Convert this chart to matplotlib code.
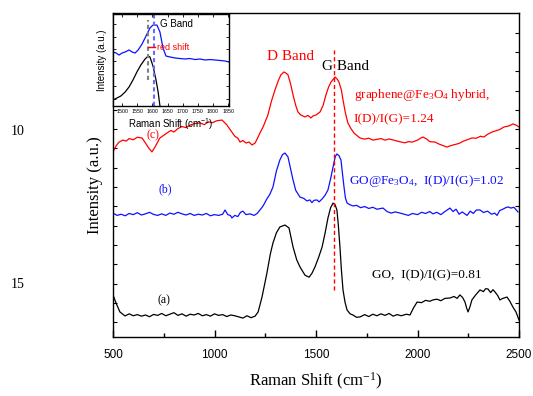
import numpy as np
import matplotlib
matplotlib.use("Agg")
import matplotlib.pyplot as plt

# ---- main spectra (wavenumber, intensity a.u.) ----
go_w = [500,515,534,559,580,600,620,640,660,680,700,720,740,760,780,800,820,840,860,880,900,920,940,960,980,1000,
        1020,1040,1060,1080,1100,1120,1140,1160,1180,1200,1215,1234,1258,1275,1288,1305,1322,1347,1367,1387,1405,1421,
        1446,1466,1480,1495,1512,1530,1545,1559,1572,1584,1594,1603,1610,1618,1625,1633,1643,1653,1668,1682,1700,1717,
        1740,1760,1780,1800,1820,1840,1860,1880,1900,1920,1945,1963,1980,1998,2020,2040,2060,2076,2095,2115,2135,2160,
        2180,2195,2209,2222,2234,2242,2249,2258,2268,2288,2308,2325,2335,2347,2360,2372,2382,2395,2406,2420,2441,2455,
        2470,2485,2500]
go_i = [2.18,1.76,1.30,1.09,1.20,1.10,1.16,1.08,1.14,1.05,1.17,1.12,1.22,1.10,1.18,1.26,1.12,1.20,1.08,1.18,1.14,1.22,
        1.10,1.16,1.08,1.20,1.12,1.16,1.06,1.14,1.10,1.04,0.98,1.10,1.00,1.08,1.30,2.07,3.30,4.30,4.87,5.40,5.70,5.80,
        5.65,4.66,4.00,3.63,3.20,3.10,3.30,3.63,4.10,4.66,5.40,6.17,6.70,6.94,6.85,6.58,5.80,4.66,3.50,2.44,1.80,1.40,
        1.20,1.14,1.02,1.04,1.16,1.06,1.18,1.10,1.20,1.12,1.22,1.08,1.16,1.10,1.18,1.14,1.50,1.81,1.78,1.90,1.85,1.92,
        1.96,1.88,2.00,2.02,2.10,2.00,2.18,2.05,1.81,1.50,1.30,1.55,1.92,2.20,2.44,2.35,2.50,2.49,2.30,2.45,2.33,2.15,
        1.92,2.00,2.07,1.85,1.55,1.30,0.88]

gofe_w = [500,520,540,560,580,600,620,640,660,680,700,720,740,760,780,800,820,840,860,880,900,920,940,960,980,1000,
          1020,1040,1052,1065,1078,1086,1100,1115,1128,1140,1155,1175,1195,1210,1224,1240,1255,1273,1288,1305,1322,
          1335,1347,1362,1375,1387,1400,1421,1440,1455,1470,1480,1490,1505,1515,1530,1545,1559,1572,1584,1595,1603,
          1613,1623,1630,1638,1645,1653,1668,1682,1700,1720,1740,1760,1780,1800,1830,1850,1870,1890,1914,1935,1955,
          1975,2000,2020,2040,2060,2076,2095,2115,2135,2160,2175,2190,2205,2220,2244,2260,2275,2290,2308,2325,2345,
          2365,2380,2392,2405,2420,2435,2446,2460,2475,2485,2495]
gofe_i = [6.42,6.30,6.36,6.28,6.40,6.34,6.44,6.32,6.38,6.46,6.35,6.30,6.38,6.30,6.42,6.36,6.46,6.38,6.32,6.40,6.30,
          6.36,6.32,6.40,6.28,6.34,6.30,6.36,6.58,6.34,6.30,6.17,6.30,6.24,6.46,6.52,6.34,6.38,6.30,6.40,6.58,6.80,
          7.10,7.40,7.77,8.60,9.17,9.45,9.53,9.33,8.70,8.13,7.60,7.25,7.18,7.05,7.10,6.96,7.08,7.10,7.00,7.15,7.35,
          7.62,8.20,8.81,9.35,9.48,9.40,9.17,8.50,7.77,7.20,6.94,6.85,6.79,6.82,6.70,6.76,6.66,6.72,6.62,6.68,6.50,
          6.42,6.48,6.42,6.36,6.30,6.40,6.34,6.46,6.40,6.50,6.38,6.46,6.34,6.50,6.68,6.50,6.62,6.36,6.48,6.30,6.52,
          6.40,6.58,6.58,6.45,6.52,6.36,6.42,6.30,6.55,6.62,6.70,6.74,6.68,6.72,6.60,6.48]

gr_w = [500,515,530,549,565,580,600,620,643,660,675,692,710,730,750,766,785,800,820,840,860,880,900,929,950,970,990,
        1010,1037,1060,1080,1100,1115,1126,1140,1155,1170,1185,1200,1212,1224,1240,1263,1280,1298,1315,1327,1342,1355,
        1362,1375,1387,1400,1411,1425,1446,1460,1475,1485,1500,1520,1535,1549,1562,1574,1594,1605,1613,1625,1633,1645,
        1657,1672,1687,1700,1717,1740,1760,1780,1800,1820,1840,1860,1879,1900,1920,1938,1955,1975,2000,2015,2027,2045,
        2060,2086,2105,2125,2145,2160,2180,2195,2209,2225,2245,2268,2290,2310,2327,2345,2367,2385,2405,2426,2445,2460,
        2470,2485,2500]
gr_i = [9.59,9.90,10.10,10.20,10.15,10.28,10.22,10.35,10.31,10.05,9.80,9.59,9.90,10.30,10.45,10.57,10.70,10.62,10.80,
        10.90,10.85,10.98,11.05,11.09,11.00,11.15,11.10,11.20,11.24,11.00,10.70,10.40,10.30,10.10,10.18,10.05,10.10,
        9.95,10.05,10.30,10.57,10.90,11.50,12.20,12.80,13.30,13.58,13.73,13.65,13.58,13.10,12.54,12.00,11.66,11.50,
        11.40,11.48,11.35,11.45,11.50,11.66,12.00,12.54,12.95,13.21,13.47,13.35,13.21,12.80,12.28,11.60,11.09,10.80,
        10.57,10.45,10.31,10.25,10.30,10.20,10.24,10.28,10.20,10.26,10.21,10.15,10.10,10.06,10.12,10.10,10.20,10.30,
        10.36,10.26,10.12,10.10,10.00,9.92,9.84,9.90,9.96,10.00,10.05,10.14,10.22,10.31,10.30,10.40,10.36,10.50,10.62,
        10.68,10.75,10.88,10.92,10.98,11.04,10.98,10.88]

# ---- inset spectra ----
in_blue_w = [1470,1480,1490,1500,1510,1523,1533,1543,1553,1566,1579,1592,1602,1615,1625,1635,1645,1658,1675,1691,
             1708,1724,1741,1757,1774,1790,1807,1823,1840,1853]
in_blue_i = [58.7,57.6,55.4,57.6,58.7,60.9,58.7,57.6,60.9,67.4,76.1,84.8,88.0,88.0,80.4,63.0,54.3,53.3,52.2,51.6,
             51.1,51.6,50.5,51.1,50.0,50.5,50.0,49.5,48.9,47.8]
in_black_w = [1470,1483,1496,1510,1523,1536,1549,1562,1576,1586,1592,1602,1612,1619,1625,1628]
in_black_i = [6.5,8.7,10.9,15.2,20.7,28.3,37.0,44.6,51.1,54.3,53.3,43.5,28.3,15.2,0.0,-4.0]

xticks = [500, 1000, 1500, 2000, 2500]
inset_xticks = [1500, 1550, 1600, 1650, 1700, 1750, 1800, 1850]

SERIF = ["Liberation Serif", "DejaVu Serif"]
SANS = ["Liberation Sans", "DejaVu Sans"]

fig = plt.figure(figsize=(5.33, 3.96), dpi=100)
ax = fig.add_axes([113/533, 1-337/396, 406/533, (337-13.3)/396])

ax.plot(go_w, go_i, color="black", lw=0.9)
ax.plot(gofe_w, gofe_i, color="#1010ff", lw=0.9)
ax.plot(gr_w, gr_i, color="#ff0000", lw=0.9)
ax.plot([1589, 1589], [2.44, 14.87], color="#ff0000", lw=1.0, ls=(0, (3, 2)))

ax.set_xlim(500, 2500)
ax.set_ylim(0, 16.77)
ax.set_xticks(xticks)
ax.set_xticklabels([])
ax.set_xticks([750, 1250, 1750, 2250], minor=True)
ax.set_yticks(np.arange(0.77, 16.77, 1.0))
ax.set_yticklabels([])
ax.tick_params(axis="x", which="major", direction="in", length=5, width=1, top=False)
ax.tick_params(axis="x", which="minor", direction="in", length=3, width=1, top=False)
ax.tick_params(axis="y", direction="in", length=3, width=0.8, left=True, right=True)
for s in ax.spines.values():
    s.set_linewidth(1.0)

for v in xticks:
    px = 113 + (v - 500) / 2000 * 406
    fig.text(px/533, 1-355/396, str(v), ha="center", va="center", fontsize=8.5, family=SANS)

SUP = r"$\mathregular{^{-1}}$"
SUB3 = r"$\mathregular{_3}$"
SUB4 = r"$\mathregular{_4}$"

fig.text(316/533, 1-381/396, "Raman Shift (cm" + SUP + ")", ha="center", va="center", fontsize=12, family=SERIF)
fig.text(95/533, 1-185/396, "Intensity (a.u.)", ha="center", va="center", rotation=90, fontsize=12, family=SERIF)
fig.text(18/533, 1-132/396, "10", ha="center", va="center", fontsize=10, family=SERIF)
fig.text(18/533, 1-285/396, "15", ha="center", va="center", fontsize=10, family=SERIF)

ax.text(1372, 14.51, "D Band", color="#ff0000", fontsize=11, family=SERIF, ha="center", va="center")
ax.text(1530, 13.99, "G Band", color="black", fontsize=11, family=SERIF, ha="left", va="center")
ax.text(1687, 12.54, "graphene@Fe" + SUB3 + "O" + SUB4 + " hybrid,", color="#ff0000", fontsize=9.5,
        family=SERIF, ha="left", va="center")
ax.text(1687, 11.30, "I(D)/I(G)=1.24", color="#ff0000", fontsize=9.5, family=SERIF, ha="left", va="center")
ax.text(1662, 8.08, "GO@Fe" + SUB3 + "O" + SUB4 + ",  I(D)/I(G)=1.02", color="#1010ff", fontsize=9.5,
        family=SERIF, ha="left", va="center")
ax.text(1776, 3.21, "GO,  I(D)/I(G)=0.81", color="black", fontsize=9.5, family=SERIF, ha="left", va="center")
ax.text(717, 1.92, "(a)", color="black", fontsize=8.5, family=SERIF, ha="left", va="center")
ax.text(722, 7.67, "(b)", color="#1010ff", fontsize=8.5, family=SERIF, ha="left", va="center")
ax.text(667, 10.47, "(c)", color="#ff0000", fontsize=8.5, family=SERIF, ha="left", va="center")

# ---- inset ----
ia = fig.add_axes([113/533, 1-106/396, 116/533, 92/396])
ia.plot(in_blue_w, in_blue_i, color="#1010ff", lw=0.9)
ia.plot(in_black_w, in_black_i, color="black", lw=0.9)
ia.plot([1586, 1586], [28.3, 93.5], color="#808080", lw=1.5, ls=(0, (2, 1.5)))
ia.plot([1605, 1605], [0, 100], color="#6a6aff", lw=1.5, ls=(0, (2, 1.5)))
ia.plot([1586, 1609], [64, 64], color="#ff0000", lw=1.0)
ia.text(1625, 89, "G Band", fontsize=7, family=SANS, ha="left", va="center")
ia.text(1615, 64, "red shift", fontsize=6.5, color="#ff0000", family=SANS, ha="left", va="center")
ia.set_xlim(1470, 1853)
ia.set_ylim(0, 100)
ia.set_xticks(inset_xticks)
ia.set_xticklabels([str(v) for v in inset_xticks], fontsize=3.8, family=SANS)
ia.set_yticks(np.arange(8, 100, 13.5))
ia.set_yticklabels([])
ia.tick_params(axis="both", direction="in", length=2, width=0.6, pad=2.5, right=True, top=True)
ia.set_xlabel("Raman Shift (cm" + SUP + ")", fontsize=7, family=SANS, labelpad=1)
ia.set_ylabel("Intensity (a.u.)", fontsize=7, family=SANS, labelpad=2)
for s in ia.spines.values():
    s.set_linewidth(1.0)

fig.savefig("out.png", dpi=100)
